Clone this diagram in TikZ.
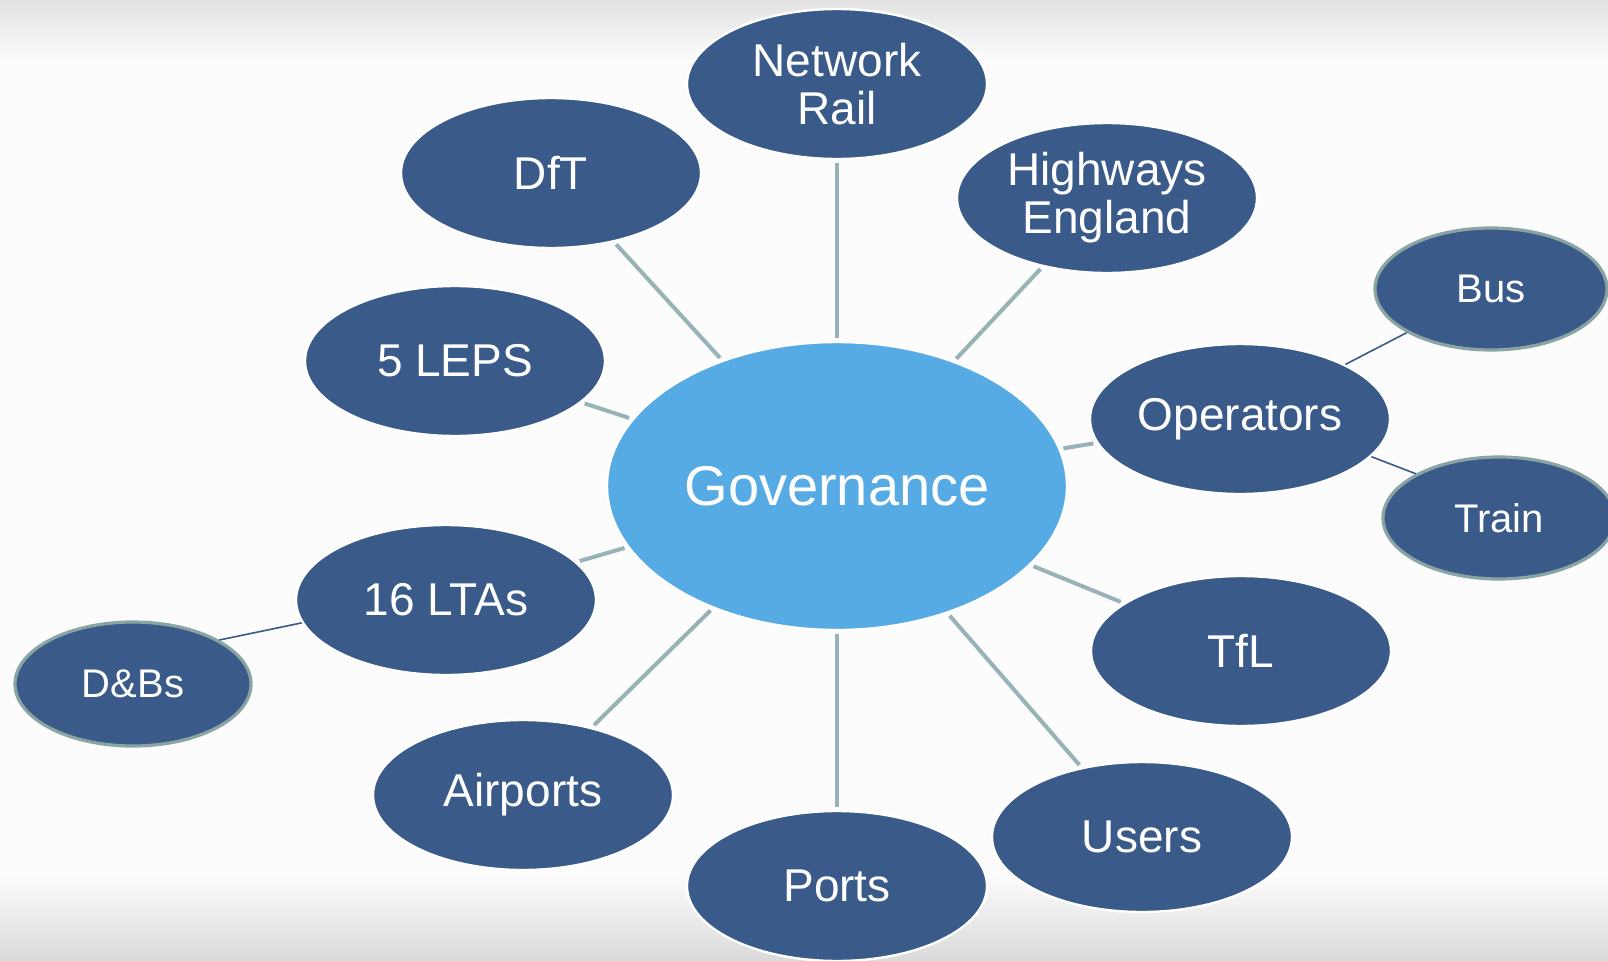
\documentclass[tikz,border=0pt]{standalone}
\usepackage{fontspec}
\setmainfont{Liberation Sans}
\usetikzlibrary{shapes.geometric}
\definecolor{darkblue}{HTML}{3A5A8A}
\definecolor{govblue}{HTML}{56ABE4}
\definecolor{linkgrey}{HTML}{97B3B6}
\definecolor{rimgrey}{HTML}{8AA4A4}
\definecolor{bgtop}{HTML}{E2E2E2}
\definecolor{bgmid}{HTML}{FCFCFC}
\definecolor{bgbot}{HTML}{DADADA}
\tikzset{
  mainnode/.style={ellipse, fill=darkblue, draw=white, line width=1.2pt,
    minimum width=300pt*0.5, minimum height=150pt*0.5, inner sep=0pt,
    text=white, align=center,
    font=\fontsize{23pt}{24pt}\selectfont},
  subnode/.style={ellipse, fill=darkblue, draw=rimgrey, line width=1.6pt,
    minimum width=116pt, minimum height=61pt, inner sep=0pt,
    text=white, align=center,
    font=\fontsize{20pt}{22pt}\selectfont},
  govnode/.style={ellipse, fill=govblue, draw=white, line width=1.2pt,
    minimum width=230pt, minimum height=144pt, inner sep=0pt,
    text=white, font=\fontsize{28pt}{30pt}\selectfont},
  link/.style={draw=linkgrey, line width=2pt, shorten >=1.5pt, shorten <=1.5pt},
  sublink/.style={draw=darkblue, line width=0.8pt}
}
\begin{document}
\begin{tikzpicture}[x=0.5pt, y=-0.5pt]
\useasboundingbox (0,0) rectangle (1608,960);
% background
\fill[bgmid] (0,0) rectangle (1608,960);
\shade[top color=bgtop, bottom color=bgmid] (0,0) rectangle (1608,60);
\shade[top color=bgmid, bottom color=bgbot] (0,875) rectangle (1608,960);

% nodes
\node[govnode] (gov) at (837,486) {Governance};
\node[mainnode] (nr) at (837,84) {Network\\Rail};
\node[mainnode] (dft) at (551,173) {DfT};
\node[mainnode] (he) at (1107,198) {Highways\\England};
\node[mainnode] (leps) at (455,361) {5 LEPS};
\node[mainnode] (op) at (1240,419) {Operators};
\node[mainnode] (lta) at (446,600) {16 LTAs};
\node[mainnode] (tfl) at (1241,651) {TfL};
\node[mainnode] (air) at (523,795) {Airports};
\node[mainnode] (users) at (1142,837) {Users};
\node[mainnode] (ports) at (837,886) {Ports};
\node[subnode] (bus) at (1491,289) {Bus};
\node[subnode] (train) at (1499,518) {Train};
\node[subnode, minimum width=118pt, minimum height=62pt] (db) at (133,684) {D\&Bs};

% connectors
\draw[link] (gov) -- (nr);
\draw[link] (gov) -- (dft);
\draw[link] (gov) -- (he);
\draw[link] (gov) -- (leps);
\draw[link] (gov) -- (op);
\draw[link] (gov) -- (lta);
\draw[link] (gov) -- (tfl);
\draw[link] (gov) -- (air);
\draw[link] (gov) -- (users);
\draw[link] (gov) -- (ports);
\draw[sublink] (op) -- (bus);
\draw[sublink] (op.-16) -- (train.152);
\draw[sublink] (lta.189) -- (db.27);
\end{tikzpicture}
\end{document}
